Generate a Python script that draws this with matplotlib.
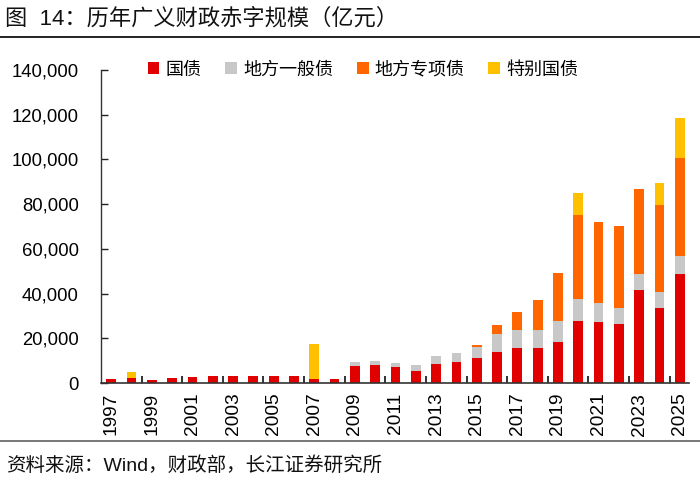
import matplotlib
matplotlib.use("Agg")
import matplotlib.pyplot as plt
from matplotlib.patches import Patch
from matplotlib.lines import Line2D
import numpy as np

plt.rcParams['font.family'] = ['Liberation Sans', 'Noto Sans CJK SC', 'DejaVu Sans']

years = list(range(1997, 2026))
guozhai = [1700, 2300, 1500, 2300, 2600, 3100, 3200, 3200, 3000, 2950, 2000, 1800,
           7500, 8000, 7000, 5500, 8500, 9500, 11200, 14000, 15500, 15500, 18300,
           27800, 27500, 26500, 41600, 33400, 48600]
difang_yiban = [0, 0, 0, 0, 0, 0, 0, 0, 0, 0, 0, 0,
                2000, 2000, 2000, 2500, 3500, 4000, 5000, 7800, 8300, 8300, 9300,
                9800, 8200, 7200, 7200, 7200, 8100]
difang_zhuanxiang = [0, 0, 0, 0, 0, 0, 0, 0, 0, 0, 0, 0,
                     0, 0, 0, 0, 0, 0, 1000, 4000, 8000, 13500, 21500,
                     37500, 36500, 36500, 38000, 39000, 44000]
tebie_guozhai = [0, 2700, 0, 0, 0, 0, 0, 0, 0, 0, 15500, 0,
                 0, 0, 0, 0, 0, 0, 0, 0, 0, 0, 0,
                 10000, 0, 0, 0, 10000, 18000]
series_names = ['国债', '地方一般债', '地方专项债', '特别国债']
colors = ['#E00000', '#C8C8C8', '#FF6600', '#FFC000']

fig = plt.figure(figsize=(7.0, 4.84), dpi=100)
ax = fig.add_axes([101/700, 1-383/484, (689-101)/700, (383-70)/484])

x = np.arange(len(years))
width = 0.48
bottom = np.zeros(len(years))
for vals, c in zip([guozhai, difang_yiban, difang_zhuanxiang, tebie_guozhai], colors):
    v = np.array(vals, dtype=float)
    ax.bar(x, v, width, bottom=bottom, color=c, edgecolor='none', zorder=2)
    bottom += v

ax.set_ylim(0, 140000)
ax.set_xlim(-0.5, 28.45)
ax.set_yticks(np.arange(0, 140001, 20000))
ax.set_yticklabels([f"{int(v):,}" for v in np.arange(0, 140001, 20000)], fontsize=13.3)
ax.tick_params(axis='y', direction='in', length=5, width=1, pad=16, colors='#222222', labelcolor='black')

ax.set_xticks(x[::2])
ax.set_xticklabels([str(y) for y in years[::2]], rotation=90, fontsize=13.8)
ax.tick_params(axis='x', which='major', length=0, pad=7)
ax.set_xticks(np.arange(1.5, 28, 2), minor=True)
ax.tick_params(axis='x', which='minor', direction='in', length=5, width=1.3, colors='#222222')

for s in ['top', 'right']:
    ax.spines[s].set_visible(False)
ax.spines['left'].set_color('#333333')
ax.spines['bottom'].set_color('#333333')
ax.spines['left'].set_linewidth(1.0)
ax.spines['bottom'].set_linewidth(1.2)

handles = [Patch(facecolor=c, edgecolor='none') for c in colors]
ax.legend(handles, series_names, loc='center left', bbox_to_anchor=(0.058, 1.0),
          ncol=4, frameon=False, fontsize=13, handlelength=0.65, handleheight=0.65,
          handletextpad=0.35, columnspacing=1.3, borderpad=0.2)

fig.text(5/700, 1-19/484, '图  14：历年广义财政赤字规模（亿元）', fontsize=16,
         va='center', ha='left', color='#111111')
fig.add_artist(Line2D([0, 1], [1-37/484, 1-37/484], color='#222222', linewidth=1.4,
                      transform=fig.transFigure))
fig.add_artist(Line2D([0, 1], [1-441/484, 1-441/484], color='#777777', linewidth=1.4,
                      transform=fig.transFigure))
fig.text(6/700, 1-466/484, '资料来源：Wind，财政部，长江证券研究所', fontsize=14,
         va='center', ha='left', color='#111111')

fig.savefig('out.png', dpi=100)
